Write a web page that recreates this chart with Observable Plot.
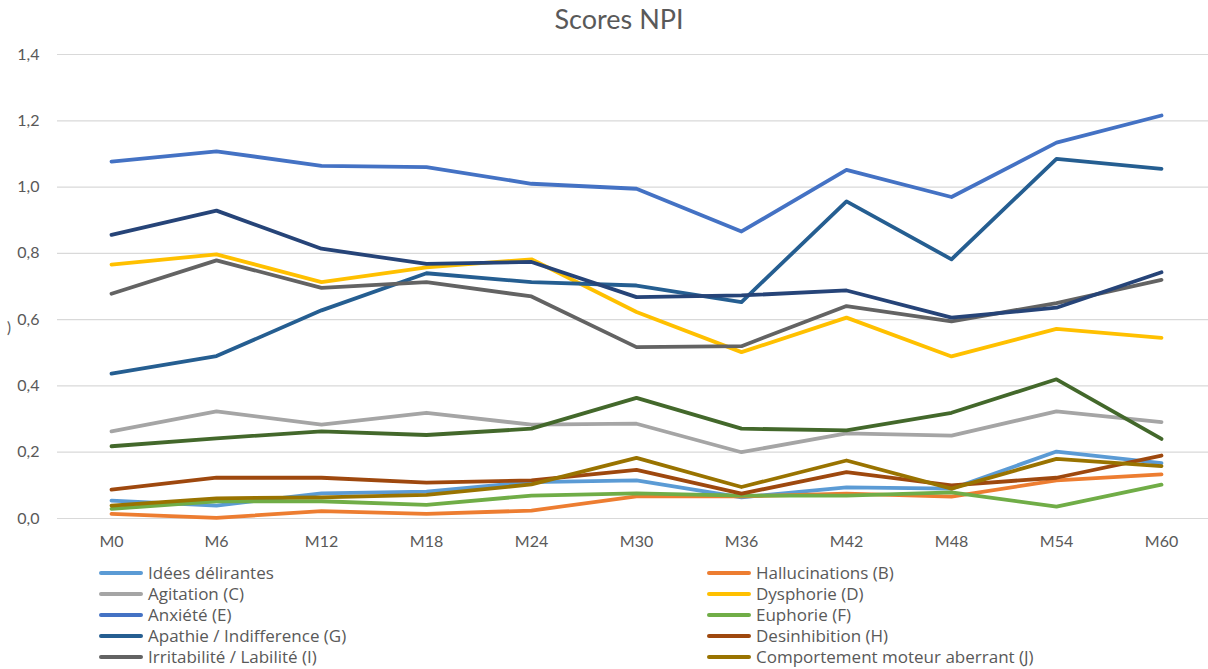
<!DOCTYPE html>
<html><head><meta charset="utf-8">
<script src="https://cdn.jsdelivr.net/npm/d3@7"></script>
<script src="https://cdn.jsdelivr.net/npm/@observablehq/plot@0.6"></script>
<style>
html,body{margin:0;padding:0;background:#fff;overflow:hidden;width:1208px;height:669px;}
body{font-family:Lato,"Open Sans",sans-serif;color:#595959;position:relative;}
#title{height:40px;position:relative;}
#title span{position:absolute;left:619px;top:3px;transform:translateX(-50%);font-size:27px;line-height:32px;white-space:nowrap;}
#chart svg{display:block;}
#legend{position:relative;padding-top:2px;}
.row{height:21px;position:relative;}
.item{position:absolute;top:0;height:21px;display:flex;align-items:center;font-family:"Open Sans",sans-serif;font-size:17px;white-space:nowrap;}
.sw{width:44px;height:4px;border-radius:2px;margin-right:5px;}
#stray{position:absolute;left:7px;top:318px;font-size:15px;}
</style></head>
<body>
<div id="title"><span>Scores NPI</span></div>
<div id="chart"></div>
<div id="legend"></div>
<span id="stray">)</span>
<script>
const months = ["M0","M6","M12","M18","M24","M30","M36","M42","M48","M54","M60"];
const seriesNames = [
  "Idées délirantes",
  "Hallucinations (B)",
  "Agitation (C)",
  "Dysphorie (D)",
  "Anxiété (E)",
  "Euphorie (F)",
  "Apathie / Indifference (G)",
  "Desinhibition (H)",
  "Irritabilité / Labilité (I)",
  "Comportement moteur aberrant (J)",
  "Troubles du sommeil (K)",
  "Troubles de l'appétit (L)"
];
const seriesColors = ["#5B9BD5","#ED7D31","#A5A5A5","#FFC000","#4472C4","#70AD47","#255E91","#9E480E","#636363","#997300","#264478","#43682B"];
// number of legend entries visible in the reference (the rest of the legend is cropped off)
const legendVisible = 10;

const ideesDelirantes = [0.054,0.039,0.076,0.081,0.110,0.115,0.064,0.094,0.090,0.202,0.167];
const hallucinations  = [0.014,0.002,0.022,0.014,0.024,0.067,0.067,0.075,0.066,0.115,0.133];
const agitation       = [0.263,0.323,0.283,0.319,0.283,0.286,0.200,0.257,0.250,0.323,0.291];
const dysphorie       = [0.766,0.797,0.713,0.758,0.782,0.623,0.502,0.606,0.489,0.572,0.545];
const anxiete         = [1.077,1.108,1.064,1.060,1.010,0.995,0.866,1.052,0.970,1.134,1.216];
const euphorie        = [0.029,0.052,0.052,0.041,0.069,0.076,0.069,0.069,0.079,0.036,0.102];
const apathie         = [0.437,0.490,0.628,0.740,0.713,0.703,0.653,0.957,0.782,1.085,1.055];
const desinhibition   = [0.087,0.123,0.123,0.108,0.115,0.147,0.075,0.140,0.100,0.123,0.190];
const irritabilite    = [0.678,0.779,0.696,0.713,0.670,0.517,0.520,0.641,0.595,0.650,0.720];
const comportement    = [0.039,0.061,0.064,0.071,0.103,0.183,0.095,0.175,0.090,0.180,0.158];
const sommeil         = [0.856,0.929,0.814,0.768,0.774,0.668,0.673,0.688,0.606,0.636,0.743];
const appetit         = [0.218,0.242,0.263,0.252,0.271,0.364,0.271,0.266,0.319,0.420,0.240];

const yTicks = [0,0.2,0.4,0.6,0.8,1.0,1.2,1.4];

const allSeries = [ideesDelirantes,hallucinations,agitation,dysphorie,anxiete,euphorie,apathie,desinhibition,irritabilite,comportement,sommeil,appetit];
const data = [];
allSeries.forEach((vals,i)=>vals.forEach((v,j)=>data.push({series:seriesNames[i],month:months[j],value:v})));

const chart = Plot.plot({
  width:1208, height:520,
  marginLeft:57, marginRight:0, marginTop:14, marginBottom:42,
  style:{fontFamily:"Lato, 'Open Sans', sans-serif", fontSize:"15px", color:"#595959", background:"#fff", overflow:"visible"},
  x:{type:"point", domain:months, padding:0, insetLeft:52, insetRight:45, label:null},
  y:{domain:[0,1.4], label:null},
  color:{domain:seriesNames, range:seriesColors},
  marks:[
    Plot.gridY(yTicks,{stroke:"#d9d9d9", strokeOpacity:1, strokeWidth:1.2}),
    Plot.axisY(yTicks,{tickSize:0, tickPadding:18, tickFormat:d=>d.toFixed(1).replace(".",","), label:null, fontSize:16}),
    Plot.axisX({tickSize:0, tickPadding:17, label:null, fontSize:16}),
    Plot.lineY(data,{x:"month", y:"value", z:"series", stroke:"series", strokeWidth:3.8, strokeLinejoin:"round", strokeLinecap:"round"})
  ]
});
document.getElementById("chart").appendChild(chart);

const legend = document.getElementById("legend");
for (let r=0; r<Math.ceil(legendVisible/2); r++){
  const row = document.createElement("div"); row.className="row";
  [0,1].forEach(c=>{
    const i = r*2+c; if (i>=legendVisible) return;
    const it = document.createElement("div"); it.className="item";
    it.style.left = (c===0?99:707)+"px";
    const sw = document.createElement("span"); sw.className="sw"; sw.style.background=seriesColors[i];
    const tx = document.createElement("span"); tx.textContent = seriesNames[i];
    it.appendChild(sw); it.appendChild(tx); row.appendChild(it);
  });
  legend.appendChild(row);
}
</script>
</body></html>
